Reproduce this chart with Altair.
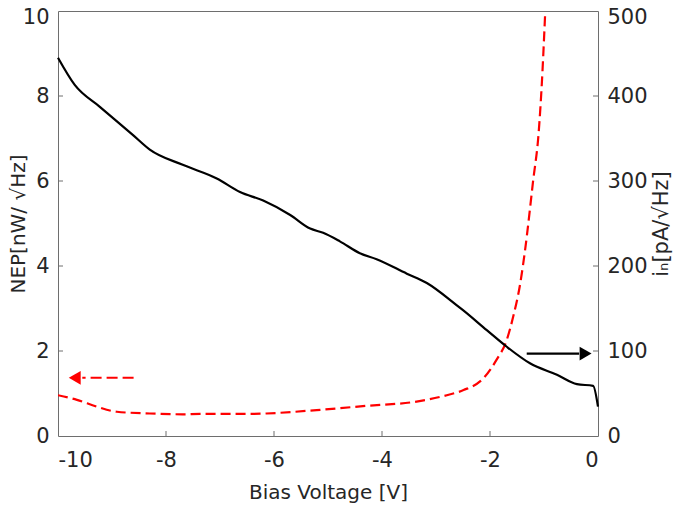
import altair as alt
import pandas as pd

# Noise current i_n (right axis, pA/sqrt(Hz)) vs bias voltage
in_v = [-10, -9.69, -9.22, -8.61, -8.30, -7.69, -7.06, -6.63, -6.20, -5.70, -5.33, -5.09,
        -4.78, -4.41, -4.10, -3.54, -3.17, -2.62, -2.50, -2.06, -1.69, -1.26, -0.76, -0.39, -0.09, 0.0]
in_val = [445, 413, 387, 354, 337, 319, 303, 287, 277, 260, 244, 239,
          229, 215, 208, 191, 180, 154, 148, 124.5, 105, 85.5, 72, 61, 59, 34.5]

# NEP (left axis, nW/sqrt(Hz)) vs bias voltage
nep_v = [-10, -9.65, -9.28, -8.91, -8.30, -7.69, -7.37, -6.44, -6.14, -5.21, -4.28, -3.36,
         -2.80, -2.49, -2.12, -1.88, -1.69, -1.57, -1.44, -1.35, -1.20, -1.10, -1.04, -0.98]
nep_val = [0.96, 0.85, 0.69, 0.57, 0.53, 0.51, 0.52, 0.52, 0.53, 0.61, 0.71, 0.81,
           0.96, 1.08, 1.36, 1.79, 2.26, 2.81, 3.59, 4.38, 6.02, 7.12, 8.30, 9.90]

x_ticks = [-10, -8, -6, -4, -2, 0]
left_ticks = [0, 2, 4, 6, 8, 10]
right_ticks = [0, 100, 200, 300, 400, 500]

# arrows (annotation)
red_arrow_x = [-8.6, -9.55]
red_arrow_y = 1.37
red_head_x = -9.69
black_arrow_x = [-1.32, -0.35]
black_arrow_y = 97
black_head_x = -0.23

FONT = "DejaVu Sans"
TXT = "#262626"
W, H = 540, 425

xs = alt.Scale(domain=[-10, 0], nice=False)
ls = alt.Scale(domain=[0, 10], nice=False)
rs = alt.Scale(domain=[0, 500], nice=False)

xaxis = alt.Axis(values=x_ticks, title="Bias Voltage [V]", labelExpr="datum.value",
                 labelPadding=13, titleX=W / 2, titleY=62, titleBaseline="alphabetic",
                 titleAlign="center", titleFontSize=20)
laxis = alt.Axis(values=left_ticks, title="NEP[nW/ \u221aHz]", orient="left",
                 labelExpr="datum.value", labelPadding=9,
                 labelOffset={"condition": {"test": "datum.value == 10", "value": 6}, "value": 0},
                 titleX=-40, titleY=H / 2, titleAngle=270, titleBaseline="middle",
                 titleAlign="center", titleFontSize=20)
raxis = alt.Axis(values=right_ticks, title="i\u2099[pA/\u221aHz]", orient="right",
                 labelExpr="datum.value", labelPadding=9,
                 labelOffset={"condition": {"test": "datum.value == 500", "value": 6}, "value": 0},
                 titleX=63, titleY=H / 2, titleAngle=270, titleBaseline="middle",
                 titleAlign="center")

nep_df = pd.DataFrame({"v": nep_v, "y": nep_val})
in_df = pd.DataFrame({"v": in_v, "y": in_val})

red_line = alt.Chart(nep_df).mark_line(color="#ff0000", strokeWidth=2.2, strokeDash=[10, 5],
                                       interpolate="monotone", clip=True).encode(
    x=alt.X("v:Q", scale=xs, axis=xaxis),
    y=alt.Y("y:Q", scale=ls, axis=laxis),
)
red_arrow = alt.Chart(pd.DataFrame({"x1": [red_arrow_x[0]], "x2": [red_arrow_x[1]],
                                    "y": [red_arrow_y]})).mark_rule(
    color="#ff0000", strokeWidth=2.2, strokeDash=[11, 5]).encode(
    x=alt.X("x1:Q", scale=xs, axis=xaxis), x2="x2:Q", y=alt.Y("y:Q", scale=ls, axis=laxis))
red_head = alt.Chart(pd.DataFrame({"x": [red_head_x], "y": [red_arrow_y]})).mark_point(
    shape="triangle-left", filled=True, color="#ff0000", opacity=1, size=190).encode(
    x=alt.X("x:Q", scale=xs, axis=xaxis), y=alt.Y("y:Q", scale=ls, axis=laxis))
left_tk = alt.Chart(pd.DataFrame({"t": left_ticks[1:-1]})).mark_rule(
    color="#6e6e6e", strokeWidth=1).encode(
    y=alt.Y("t:Q", scale=ls, axis=laxis), x=alt.value(0), x2=alt.value(5))
x_tk = alt.Chart(pd.DataFrame({"t": x_ticks[1:-1]})).mark_rule(
    color="#6e6e6e", strokeWidth=1).encode(
    x=alt.X("t:Q", scale=xs, axis=xaxis), y=alt.value(H), y2=alt.value(H - 5))

left_group = alt.layer(red_line, red_arrow, red_head, left_tk, x_tk)

black_line = alt.Chart(in_df).mark_line(color="#000000", strokeWidth=2.2,
                                        interpolate="monotone").encode(
    x=alt.X("v:Q", scale=xs, axis=xaxis),
    y=alt.Y("y:Q", scale=rs, axis=raxis),
)
black_arrow = alt.Chart(pd.DataFrame({"x1": [black_arrow_x[0]], "x2": [black_arrow_x[1]],
                                      "y": [black_arrow_y]})).mark_rule(
    color="#000000", strokeWidth=2.2).encode(
    x=alt.X("x1:Q", scale=xs, axis=xaxis), x2="x2:Q", y=alt.Y("y:Q", scale=rs, axis=raxis))
black_head = alt.Chart(pd.DataFrame({"x": [black_head_x], "y": [black_arrow_y]})).mark_point(
    shape="triangle-right", filled=True, color="#000000", opacity=1, size=190).encode(
    x=alt.X("x:Q", scale=xs, axis=xaxis), y=alt.Y("y:Q", scale=rs, axis=raxis))
right_tk = alt.Chart(pd.DataFrame({"t": right_ticks[1:-1]})).mark_rule(
    color="#6e6e6e", strokeWidth=1).encode(
    y=alt.Y("t:Q", scale=rs, axis=raxis), x=alt.value(W), x2=alt.value(W - 5))

right_group = alt.layer(black_line, black_arrow, black_head, right_tk)

chart = alt.layer(left_group, right_group).resolve_scale(y="independent").properties(
    width=W, height=H,
    autosize=alt.AutoSizeParams(type="none"),
    padding={"left": 50, "top": 3, "right": 79, "bottom": 68},
    background="white",
).configure_view(stroke="#6e6e6e", strokeWidth=1).configure_axis(
    ticks=False, tickSize=0, domain=False, grid=False,
    labelFontSize=21, titleFontSize=21, labelFont=FONT, titleFont=FONT,
    labelColor=TXT, titleColor=TXT, titleFontWeight="normal",
)

chart.save("out.html", embed_options={"renderer": "svg", "actions": False})
